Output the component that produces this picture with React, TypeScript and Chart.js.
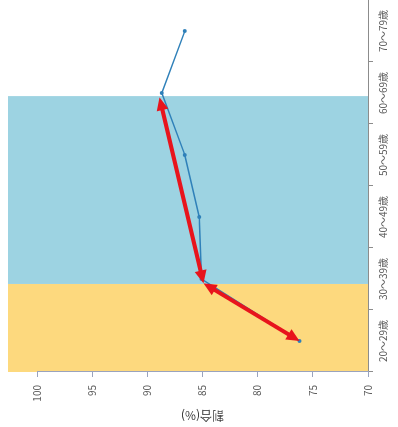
import React, { useEffect, useRef } from 'react';
import { Chart, registerables } from 'chart.js';

Chart.register(...registerables);

// categories along the (original) horizontal axis
const categories = ['20～29歳', '30～39歳', '40～49歳', '50～59歳', '60～69歳', '70～79歳'];
// series values (%)
const rateValues = [76.2, 85.1, 85.3, 86.6, 88.7, 86.6];
// value axis
const valueMin = 70;
const valueMax = 100;
const valueStep = 5;
// highlighted ranges (category index positions)
const bandStarts = [-0.5, 0.92];
const bandEnds = [0.92, 3.95];
const bandColors = ['#fdd97e', '#9dd3e2'];
// annotation arrows: pairs of points (category index, value)
const arrowIdx = [0, 0.93, 3.93];
const arrowVals = [76.2, 84.9, 88.9];

const W = 431; // canvas width (top 4px of the rotated picture is cropped)
const VIEW_H = 427;
const H = 398;
const FONT = "'Noto Sans CJK JP', 'Noto Sans', sans-serif";

const bandPlugin = {
  id: 'bands',
  beforeDraw(chart: any) {
    const { ctx, chartArea, scales } = chart;
    const xs = scales.x;
    ctx.save();
    for (let i = 0; i < bandStarts.length; i++) {
      const x1 = Math.max(chartArea.left, xs.getPixelForValue(bandStarts[i]));
      const x2 = Math.min(chartArea.right, xs.getPixelForValue(bandEnds[i]));
      ctx.fillStyle = bandColors[i];
      ctx.fillRect(x1, 8, x2 - x1, chartArea.bottom - 8);
    }
    ctx.restore();
  },
};

function drawHead(ctx: any, fx: number, fy: number, tx: number, ty: number) {
  const ang = Math.atan2(ty - fy, tx - fx);
  const len = 13;
  const wid = 6;
  ctx.beginPath();
  ctx.moveTo(tx, ty);
  ctx.lineTo(tx - len * Math.cos(ang) + wid * Math.sin(ang), ty - len * Math.sin(ang) - wid * Math.cos(ang));
  ctx.lineTo(tx - len * Math.cos(ang) - wid * Math.sin(ang), ty - len * Math.sin(ang) + wid * Math.cos(ang));
  ctx.closePath();
  ctx.fill();
}

const arrowPlugin = {
  id: 'arrows',
  afterDatasetsDraw(chart: any) {
    const { ctx, scales } = chart;
    const pts = arrowIdx.map((v, i) => [scales.x.getPixelForValue(v), scales.y.getPixelForValue(arrowVals[i])]);
    ctx.save();
    ctx.strokeStyle = '#e8141c';
    ctx.fillStyle = '#e8141c';
    ctx.lineWidth = 4;
    ctx.lineCap = 'butt';
    for (let i = 0; i < pts.length - 1; i++) {
      const [ax, ay] = pts[i];
      const [bx, by] = pts[i + 1];
      const ang = Math.atan2(by - ay, bx - ax);
      const inset = 10;
      ctx.beginPath();
      ctx.moveTo(ax + inset * Math.cos(ang), ay + inset * Math.sin(ang));
      ctx.lineTo(bx - inset * Math.cos(ang), by - inset * Math.sin(ang));
      ctx.stroke();
      drawHead(ctx, ax, ay, bx, by);
      drawHead(ctx, bx, by, ax, ay);
    }
    ctx.restore();
  },
};

export default function App() {
  const ref = useRef<HTMLCanvasElement | null>(null);

  useEffect(() => {
    document.body.style.margin = '0';
    const canvas = ref.current;
    if (!canvas) return;
    const chart = new Chart(canvas, {
      type: 'line',
      data: {
        labels: categories,
        datasets: [
          {
            data: rateValues,
            borderColor: '#2f80b9',
            backgroundColor: '#2f80b9',
            borderWidth: 1.5,
            pointRadius: 2,
            pointBorderWidth: 0,
            tension: 0,
          },
        ],
      },
      options: {
        animation: false,
        responsive: false,
        devicePixelRatio: 1,
        layout: { padding: { top: 37, right: 0, left: 0, bottom: 0 } },
        plugins: { legend: { display: false }, tooltip: { enabled: false } },
        scales: {
          x: {
            type: 'category',
            offset: true,
            afterFit(scale: any) {
              scale.height = 30;
            },
            grid: { display: true, drawOnChartArea: false, offset: true, tickLength: 5, color: '#8c8c8c' },
            border: { display: true, color: '#8c8c8c' },
            ticks: { color: '#595959', font: { family: FONT, size: 10 }, padding: 4, maxRotation: 0 },
          },
          y: {
            type: 'linear',
            min: valueMin,
            max: valueMax,
            afterFit(scale: any) {
              scale.width = 55;
            },
            ticks: { stepSize: valueStep, color: '#595959', font: { family: FONT, size: 10 }, padding: 8 },
            grid: { display: true, drawOnChartArea: false, tickLength: 5, color: '#9aa3bd' },
            border: { display: true, color: '#9aa3bd' },
            title: {
              display: true,
              text: '割合(%)',
              color: '#404040',
              font: { family: FONT, size: 12 },
              padding: { top: 4, bottom: 0 },
            },
          },
        },
      },
      plugins: [bandPlugin, arrowPlugin],
    });
    return () => chart.destroy();
  }, []);

  return (
    <div style={{ position: 'fixed', left: 0, top: 0, width: H, height: VIEW_H, overflow: 'hidden', background: '#fff' }}>
      <div
        style={{
          position: 'absolute',
          left: 0,
          top: 0,
          width: W,
          height: H,
          transformOrigin: 'top left',
          transform: `translateY(${VIEW_H}px) rotate(-90deg)`,
        }}
      >
        <canvas ref={ref} width={W} height={H} style={{ display: 'block', width: W, height: H }} />
      </div>
    </div>
  );
}
